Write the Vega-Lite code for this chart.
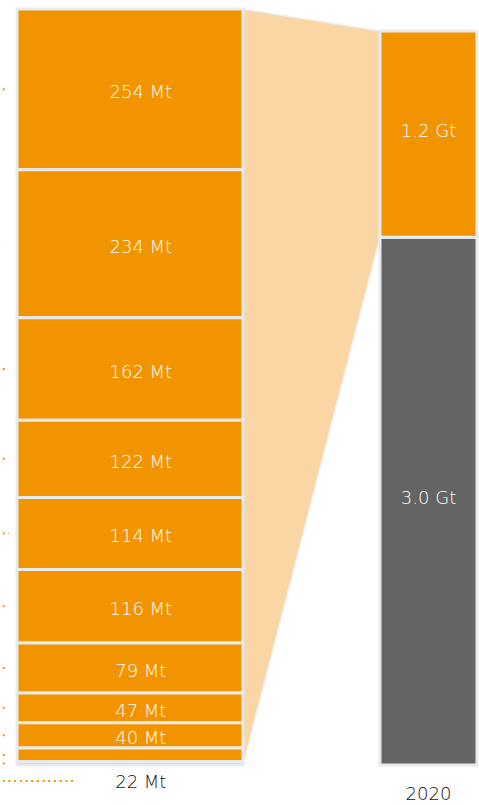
{
  "$schema": "https://vega.github.io/schema/vega-lite/v6.json",
  "width": 479,
  "height": 805,
  "autosize": {"type": "fit", "contains": "padding"},
  "padding": 0,
  "background": "white",
  "config": {"view": {"stroke": null}, "text": {"font": "DejaVu Sans", "fontWeight": 200}},
  "datasets": {
    "left": [
      {"seg": "s1", "value": 254, "order": 11, "label": "254 Mt", "lead": 1.0},
      {"seg": "s2", "value": 234, "order": 10, "label": "234 Mt", "lead": 0.6},
      {"seg": "s3", "value": 162, "order": 9, "label": "162 Mt", "lead": 1.7},
      {"seg": "s4", "value": 122, "order": 8, "label": "122 Mt", "lead": 1.5},
      {"seg": "s5", "value": 114, "order": 7, "label": "114 Mt", "lead": 1.9},
      {"seg": "s6", "value": 116, "order": 6, "label": "116 Mt", "lead": 1.0},
      {"seg": "s7", "value": 79, "order": 5, "label": "79 Mt", "lead": 1.25},
      {"seg": "s8", "value": 47, "order": 4, "label": "47 Mt", "lead": 1.25},
      {"seg": "s9", "value": 40, "order": 3, "label": "40 Mt", "lead": 1.25},
      {"seg": "s10", "value": 22, "order": 2, "label": "", "lead": 1.25},
      {"seg": "s11", "value": 5, "order": 1, "label": "", "lead": 1.0}
    ],
    "right": [
      {"seg": "other", "value": 3.02, "order": 1, "label": "3.0 Gt", "color": "#646464"},
      {"seg": "sector", "value": 1.18, "order": 2, "label": "1.2 Gt", "color": "#F29400"}
    ]
  },
  "resolve": {"scale": {"y": "independent"}},
  "layer": [
    {
      "data": {"values": [
        {"x": 50.73, "top": 1195, "bot": 0},
        {"x": 79.33, "top": 1160.2, "bot": 834.3}
      ]},
      "mark": {"type": "area", "color": "#F9D6A3", "stroke": "#eef0f2", "strokeWidth": 1.5},
      "encoding": {
        "x": {"field": "x", "type": "quantitative", "scale": {"domain": [0, 100], "nice": false, "zero": false}, "axis": null},
        "y": {"field": "top", "type": "quantitative", "scale": {"domain": [-63.2, 1209.2], "nice": false, "zero": false}, "axis": null},
        "y2": {"field": "bot"}
      }
    },
    {
      "data": {"name": "left"},
      "transform": [
        {"stack": "value", "groupby": [], "sort": [{"field": "order", "order": "ascending"}], "as": ["y0", "y1"]},
        {"calculate": "3.55", "as": "xa"},
        {"calculate": "50.73", "as": "xb"}
      ],
      "mark": {"type": "bar", "color": "#F29400", "stroke": "#e8ebee", "strokeWidth": 3},
      "encoding": {
        "x": {"field": "xa", "type": "quantitative", "scale": {"domain": [0, 100], "nice": false, "zero": false}, "axis": null},
        "x2": {"field": "xb"},
        "y": {"field": "y1", "type": "quantitative", "scale": {"domain": [-63.2, 1209.2], "nice": false, "zero": false}, "axis": null},
        "y2": {"field": "y0"}
      }
    },
    {
      "data": {"name": "left"},
      "transform": [
        {"stack": "value", "groupby": [], "sort": [{"field": "order", "order": "ascending"}], "as": ["y0", "y1"]},
        {"calculate": "(datum.y0 + datum.y1) / 2", "as": "mid"},
        {"calculate": "-3", "as": "xs"}
      ],
      "mark": {"type": "rule", "color": "#F29400", "strokeWidth": 2, "strokeDash": [2, 3.7], "clip": true},
      "encoding": {
        "x": {"field": "xs", "type": "quantitative", "scale": {"domain": [0, 100], "nice": false, "zero": false}, "axis": null},
        "x2": {"field": "lead"},
        "y": {"field": "mid", "type": "quantitative", "scale": {"domain": [-63.2, 1209.2], "nice": false, "zero": false}, "axis": null}
      }
    },
    {
      "data": {"name": "left"},
      "transform": [
        {"stack": "value", "groupby": [], "sort": [{"field": "order", "order": "ascending"}], "as": ["y0", "y1"]},
        {"calculate": "(datum.y0 + datum.y1) / 2", "as": "mid"},
        {"filter": "datum.label != ''"},
        {"calculate": "29.4", "as": "xc"}
      ],
      "mark": {"type": "text", "color": "white", "fontSize": 18, "baseline": "middle", "align": "center", "dy": 4},
      "encoding": {
        "x": {"field": "xc", "type": "quantitative", "scale": {"domain": [0, 100], "nice": false, "zero": false}, "axis": null},
        "y": {"field": "mid", "type": "quantitative", "scale": {"domain": [-63.2, 1209.2], "nice": false, "zero": false}, "axis": null},
        "text": {"field": "label", "type": "nominal"}
      }
    },
    {
      "data": {"values": [{"label": "22 Mt", "pos": -25.3, "xs": -3, "lead": 15.7}]},
      "mark": {"type": "rule", "color": "#F29400", "strokeWidth": 2, "strokeDash": [2, 3.7], "clip": true},
      "encoding": {
        "x": {"field": "xs", "type": "quantitative", "scale": {"domain": [0, 100], "nice": false, "zero": false}, "axis": null},
        "x2": {"field": "lead"},
        "y": {"field": "pos", "type": "quantitative", "scale": {"domain": [-63.2, 1209.2], "nice": false, "zero": false}, "axis": null}
      }
    },
    {
      "data": {"values": [{"label": "22 Mt", "pos": -25.3, "xc": 29.4}]},
      "mark": {"type": "text", "color": "#111111", "fontSize": 18, "baseline": "middle", "align": "center", "dy": 2},
      "encoding": {
        "x": {"field": "xc", "type": "quantitative", "scale": {"domain": [0, 100], "nice": false, "zero": false}, "axis": null},
        "y": {"field": "pos", "type": "quantitative", "scale": {"domain": [-63.2, 1209.2], "nice": false, "zero": false}, "axis": null},
        "text": {"field": "label", "type": "nominal"}
      }
    },
    {
      "data": {"name": "right"},
      "transform": [
        {"stack": "value", "groupby": [], "sort": [{"field": "order", "order": "ascending"}], "as": ["y0", "y1"]},
        {"calculate": "79.33", "as": "xa"},
        {"calculate": "99.58", "as": "xb"}
      ],
      "mark": {"type": "bar", "stroke": "#e8ebee", "strokeWidth": 3},
      "encoding": {
        "x": {"field": "xa", "type": "quantitative", "scale": {"domain": [0, 100], "nice": false, "zero": false}, "axis": null},
        "x2": {"field": "xb"},
        "y": {"field": "y1", "type": "quantitative", "scale": {"domain": [-0.229, 4.377], "nice": false, "zero": false}, "axis": null},
        "y2": {"field": "y0"},
        "color": {"field": "color", "type": "nominal", "scale": null, "legend": null}
      }
    },
    {
      "data": {"name": "right"},
      "transform": [
        {"stack": "value", "groupby": [], "sort": [{"field": "order", "order": "ascending"}], "as": ["y0", "y1"]},
        {"calculate": "(datum.y0 + datum.y1) / 2", "as": "mid"},
        {"calculate": "89.46", "as": "xc"}
      ],
      "mark": {"type": "text", "color": "white", "fontSize": 18, "baseline": "middle", "align": "center", "dy": -2},
      "encoding": {
        "x": {"field": "xc", "type": "quantitative", "scale": {"domain": [0, 100], "nice": false, "zero": false}, "axis": null},
        "y": {"field": "mid", "type": "quantitative", "scale": {"domain": [-0.229, 4.377], "nice": false, "zero": false}, "axis": null},
        "text": {"field": "label", "type": "nominal"}
      }
    },
    {
      "data": {"values": [{"label": "2020", "pos": -0.172, "xc": 89.46}]},
      "mark": {"type": "text", "color": "#111111", "fontSize": 18, "baseline": "middle", "align": "center"},
      "encoding": {
        "x": {"field": "xc", "type": "quantitative", "scale": {"domain": [0, 100], "nice": false, "zero": false}, "axis": null},
        "y": {"field": "pos", "type": "quantitative", "scale": {"domain": [-0.229, 4.377], "nice": false, "zero": false}, "axis": null},
        "text": {"field": "label", "type": "nominal"}
      }
    }
  ]
}
